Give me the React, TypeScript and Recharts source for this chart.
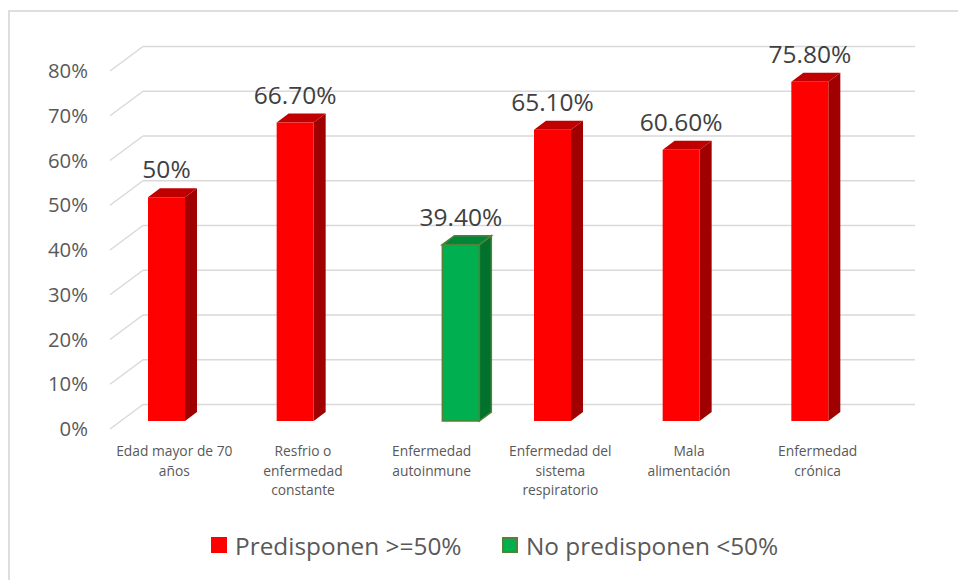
import React from "react";
import { BarChart, Bar, XAxis, YAxis, CartesianGrid, LabelList } from "recharts";

const categories = [
  "Edad mayor de 70\naños",
  "Resfrio o\nenfermedad\nconstante",
  "Enfermedad\nautoinmune",
  "Enfermedad del\nsistema\nrespiratorio",
  "Mala\nalimentación",
  "Enfermedad\ncrónica",
];
const predisponen = [50, 66.7, null, 65.1, 60.6, 75.8];
const noPredisponen = [null, null, 39.4, null, null, null];
const yTicks = [0, 10, 20, 30, 40, 50, 60, 70, 80];
const seriesNames = ["Predisponen >=50%", "No predisponen <50%"];

const data = categories.map((name, i) => ({
  name,
  predisponen: predisponen[i],
  noPredisponen: noPredisponen[i],
}));

const FONT = "'Open Sans', sans-serif";
const GRID = "#D9D9D9";
// back wall offset of the grid, and bar offset / depth
const WALL_X = 33;
const WALL_Y = 24.5;
const BAR_DX = 11;
const BAR_DY = -8;
const SIDE_X = 12;
const SIDE_Y = 9;

const RED = { front: "#FF0000", top: "#C00000", side: "#A00000", stroke: "none" };
const GREEN = { front: "#00B050", top: "#00863A", side: "#00722E", stroke: "#538135" };

function Box3D(props: any) {
  const { x, y, width, height, value, colors } = props;
  if (value == null || !height) return null;
  const x0 = x + BAR_DX;
  const y0 = y + BAR_DY;
  const x1 = x0 + width;
  const y1 = y0 + height;
  const sw = colors.stroke === "none" ? 0 : 1.5;
  return (
    <g>
      <polygon
        points={`${x1},${y0} ${x1 + SIDE_X},${y0 - SIDE_Y} ${x1 + SIDE_X},${y1 - SIDE_Y} ${x1},${y1}`}
        fill={colors.side}
        stroke={colors.stroke}
        strokeWidth={sw}
      />
      <polygon
        points={`${x0},${y0} ${x0 + SIDE_X},${y0 - SIDE_Y} ${x1 + SIDE_X},${y0 - SIDE_Y} ${x1},${y0}`}
        fill={colors.top}
        stroke={colors.stroke}
        strokeWidth={sw}
      />
      <rect x={x0} y={y0} width={width} height={height} fill={colors.front} stroke={colors.stroke} strokeWidth={sw} />
    </g>
  );
}

const fmt = (v: number) => (Number.isInteger(v) ? `${v}%` : `${v.toFixed(2)}%`);

function BarLabel(props: any) {
  const { x, y, width, value } = props;
  if (value == null) return null;
  return (
    <text
      x={x + width / 2 + BAR_DX}
      y={y + BAR_DY - SIDE_Y - 10}
      textAnchor="middle"
      fill="#404040"
      fontSize={24.5}
      fontFamily={FONT}
    >
      {fmt(value)}
    </text>
  );
}

function gridLine(p: any) {
  const { x1, y1, x2 } = p;
  return (
    <g key={`g-${y1}`}>
      <line x1={x1} y1={y1} x2={x1 + WALL_X} y2={y1 - WALL_Y} stroke={GRID} strokeWidth={1.5} />
      <line x1={x1 + WALL_X} y1={y1 - WALL_Y} x2={x2 + WALL_X} y2={y1 - WALL_Y} stroke={GRID} strokeWidth={1.5} />
    </g>
  );
}

function YTick(p: any) {
  return (
    <text x={88} y={p.y} dy="0.35em" textAnchor="end" fill="#595959" fontSize={20.3} fontFamily={FONT}>
      {p.payload.value}%
    </text>
  );
}

function XTick(p: any) {
  const lines = String(p.payload.value).split("\n");
  return (
    <text x={p.x} y={456} textAnchor="middle" fill="#595959" fontSize={13.8} fontFamily={FONT}>
      {lines.map((l, i) => (
        <tspan key={i} x={p.x} dy={i === 0 ? 0 : 19.5}>
          {l}
        </tspan>
      ))}
    </text>
  );
}

function LegendItem({ color, stroke, label, left }: any) {
  return (
    <div style={{ position: "absolute", left, top: 528, display: "flex", alignItems: "center", height: 34 }}>
      <div
        style={{
          width: 16,
          height: 16,
          background: color,
          boxSizing: "border-box",
          border: stroke ? `2px solid ${stroke}` : "none",
          marginRight: 8,
        }}
      />
      <span style={{ fontFamily: FONT, fontSize: 24.4, color: "#595959", whiteSpace: "nowrap" }}>{label}</span>
    </div>
  );
}

export default function App() {
  return (
    <div style={{ position: "absolute", left: 0, top: 0, width: 958, height: 580, background: "#fff", overflow: "hidden" }}>
      <div
        style={{
          position: "absolute",
          left: 8,
          top: 10,
          width: 1000,
          height: 600,
          borderTop: `2px solid #DEDEDE`,
          borderLeft: `2px solid #DEDEDE`,
        }}
      />
      <div style={{ position: "absolute", left: 0, top: 0 }}>
        <BarChart
          width={958}
          height={580}
          data={data}
          margin={{ top: 71, right: 76, bottom: 91, left: 10 }}
          barGap={0}
        >
          <CartesianGrid vertical={false} horizontal={gridLine} />
          <YAxis
            width={100}
            domain={[0, 80]}
            ticks={yTicks}
            axisLine={false}
            tickLine={false}
            tick={<YTick />}
            interval={0}
          />
          <XAxis dataKey="name" height={60} axisLine={false} tickLine={false} tick={<XTick />} interval={0} />
          <Bar
            dataKey="predisponen"
            name={seriesNames[0]}
            barSize={37}
            isAnimationActive={false}
            shape={(p: any) => <Box3D {...p} colors={RED} />}
          >
            <LabelList dataKey="predisponen" content={<BarLabel />} />
          </Bar>
          <Bar
            dataKey="noPredisponen"
            name={seriesNames[1]}
            barSize={37}
            isAnimationActive={false}
            shape={(p: any) => <Box3D {...p} colors={GREEN} />}
          >
            <LabelList dataKey="noPredisponen" content={<BarLabel />} />
          </Bar>
        </BarChart>
      </div>
      <LegendItem color={RED.front} label={seriesNames[0]} left={211} />
      <LegendItem color={GREEN.front} stroke={GREEN.stroke} label={seriesNames[1]} left={502} />
    </div>
  );
}
